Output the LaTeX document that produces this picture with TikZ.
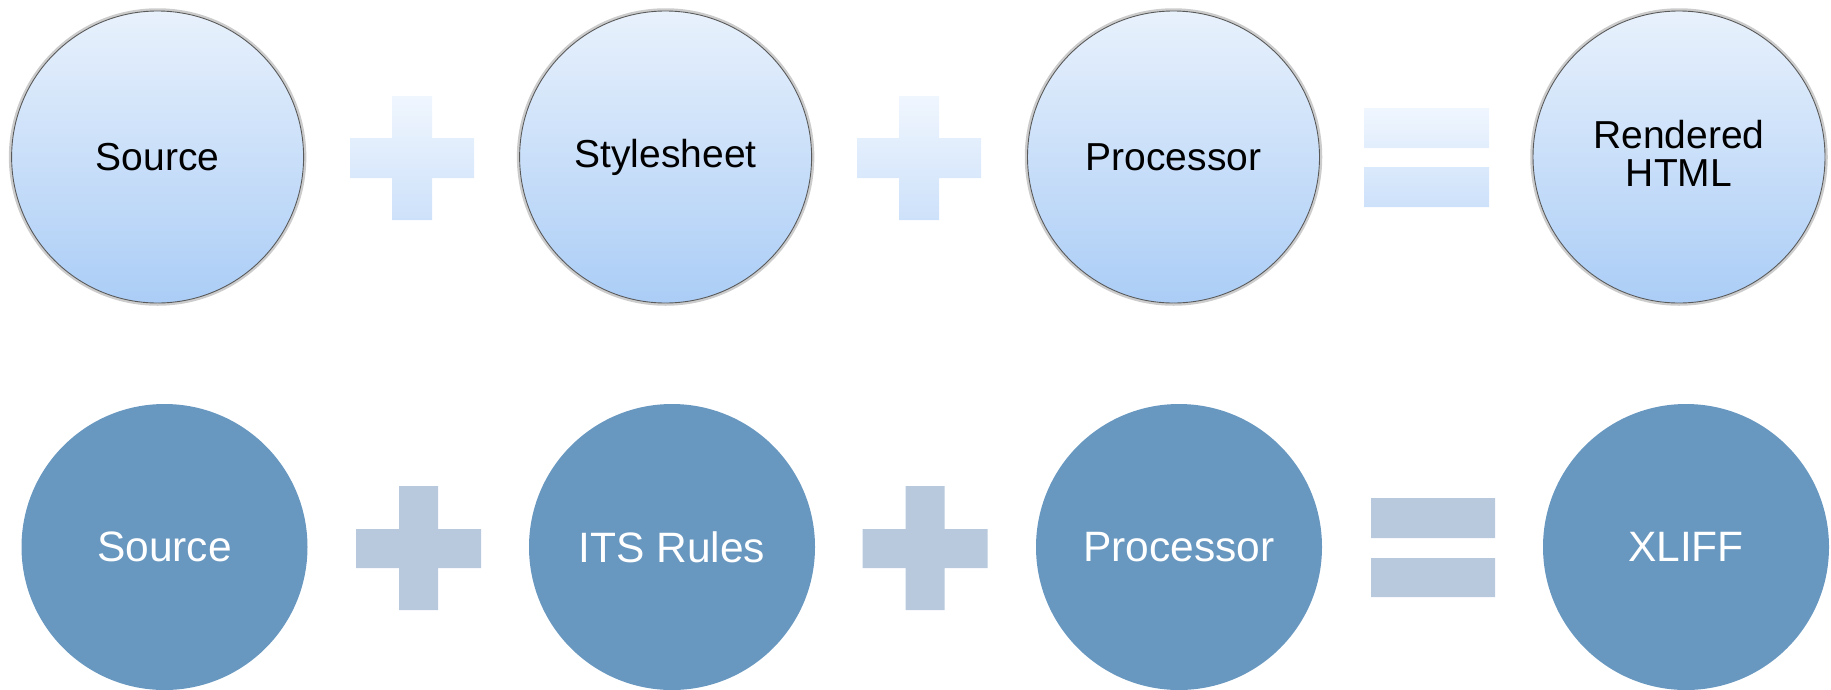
\documentclass[tikz,border=0pt]{standalone}
\usepackage{fontspec}
\setmainfont{Liberation Sans}
\usepackage{tikz}

\definecolor{bubtop}{HTML}{E8F1FC}
\definecolor{bubbot}{HTML}{ABCDF6}
\definecolor{optop}{HTML}{F0F6FE}
\definecolor{opbot}{HTML}{CDE1FA}
\definecolor{itsblue}{HTML}{6897C0}
\definecolor{itsop}{HTML}{B9C9DD}

\begin{document}
\begin{tikzpicture}[x=1pt, y=-1pt,
    bubble/.style={circle, inner sep=0pt, minimum size=292pt, draw=black!65, line width=0.9pt,
        top color=bubtop, bottom color=bubbot, font=\fontsize{39}{38}\selectfont, align=center},
    itsbubble/.style={circle, inner sep=0pt, minimum size=286pt, fill=itsblue, text=white,
        font=\fontsize{42.5}{46}\selectfont},
    halo/.style={draw=black!20, line width=2.5pt}]
    \useasboundingbox (0, 0) rectangle (1831, 689);

    % 上排：样式表渲染
    \foreach \cx in {157.6, 665.6, 1173.5, 1679}
        \draw[halo] (\cx, 157) circle (147.5);
    \node[bubble] (src) at (157.6, 157) {Source};
    \node[bubble] (sty) at (665.6, 157) {Stylesheet};
    \node[bubble] (proc) at (1173.5, 157) {Processor};
    \node[bubble, text depth=7pt] (html) at (1679, 157) {Rendered\\HTML};

    % 上排加号与等号
    \foreach \cx in {412, 919}
        \shade[top color=optop, bottom color=opbot]
            (\cx-20, 96) -- (\cx+20, 96) -- (\cx+20, 138) -- (\cx+62, 138) -- (\cx+62, 178)
            -- (\cx+20, 178) -- (\cx+20, 220) -- (\cx-20, 220) -- (\cx-20, 178) -- (\cx-62, 178)
            -- (\cx-62, 138) -- (\cx-20, 138) -- cycle;
    \shade[top color=optop, bottom color=opbot]
        (1364, 108) rectangle (1489, 148) (1364, 167) rectangle (1489, 207);

    % 下排：ITS 规则
    \node[itsbubble] (src2) at (164.5, 547) {Source};
    \node[itsbubble] (its) at (672, 547) {ITS Rules};
    \node[itsbubble] (proc2) at (1179, 547) {Processor};
    \node[itsbubble] (xliff) at (1686, 547) {XLIFF};

    % 下排加号与等号
    \foreach \cx in {418.5, 925}
        \fill[itsop]
            (\cx-19.5, 486) -- (\cx+19.5, 486) -- (\cx+19.5, 529) -- (\cx+62.5, 529) -- (\cx+62.5, 568)
            -- (\cx+19.5, 568) -- (\cx+19.5, 610) -- (\cx-19.5, 610) -- (\cx-19.5, 568) -- (\cx-62.5, 568)
            -- (\cx-62.5, 529) -- (\cx-19.5, 529) -- cycle;
    \fill[itsop] (1371, 498) rectangle (1495, 538) (1371, 558) rectangle (1495, 597);
\end{tikzpicture}
\end{document}
